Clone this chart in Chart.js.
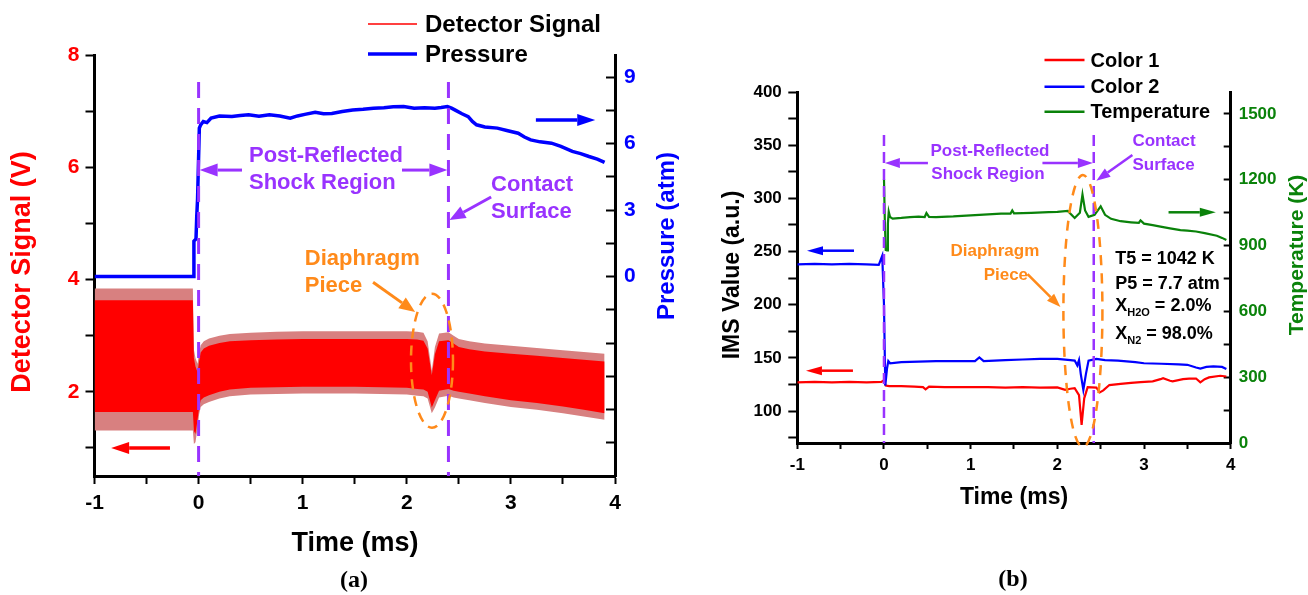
<!DOCTYPE html>
<html>
<head>
<meta charset="utf-8">
<script src="https://cdn.jsdelivr.net/npm/chart.js@4.4.1/dist/chart.umd.min.js"></script>
<style>
  html, body { margin: 0; padding: 0; background: #fff; }
  #wrap { position: relative; width: 1308px; height: 595px; overflow: hidden; }
  canvas { position: absolute; top: 0; }
</style>
</head>
<body>
<div id="wrap">
  <canvas id="chartA" width="680" height="595" style="left:0"></canvas>
  <canvas id="chartB" width="628" height="595" style="left:680px"></canvas>
</div>
<script>
// ---------- panel (a): detector signal band (V) and pressure (atm) ----------
const aEnvTime   = [-1, -0.5, -0.055, -0.045, -0.03, -0.01, 0.005, 0.02, 0.05, 0.1,
                    0.2, 0.3, 0.5, 0.75, 1.0, 1.25, 1.5, 1.75, 2.0, 2.1,
                    2.16, 2.2, 2.24, 2.27, 2.31, 2.4, 2.45, 2.5, 2.6, 2.75,
                    3.0, 3.25, 3.5, 3.7, 3.9];
const aOuterHigh = [3.84, 3.84, 3.84, 2.75, 2.6, 2.5, 2.7, 2.83, 2.9, 2.95,
                    3.0, 3.03, 3.05, 3.07, 3.08, 3.08, 3.08, 3.08, 3.08, 3.07,
                    3.05, 2.9, 2.38, 2.8, 3.04, 3.06, 3.0, 2.94, 2.9, 2.86,
                    2.82, 2.78, 2.74, 2.71, 2.68];
const aInnerHigh = [3.63, 3.63, 3.63, 2.6, 2.45, 2.35, 2.55, 2.7, 2.77, 2.82,
                    2.87, 2.9, 2.92, 2.93, 2.94, 2.94, 2.94, 2.94, 2.94, 2.93,
                    2.91, 2.77, 2.3, 2.67, 2.9, 2.92, 2.86, 2.8, 2.76, 2.72,
                    2.68, 2.64, 2.6, 2.57, 2.54];
const aInnerLow  = [1.64, 1.64, 1.64, 1.3, 1.25, 1.5, 1.72, 1.85, 1.9, 1.94,
                    2.0, 2.04, 2.07, 2.08, 2.09, 2.09, 2.09, 2.08, 2.07, 2.05,
                    2.04, 2.0, 1.72, 1.85, 2.02, 2.05, 2.02, 2.0, 1.97, 1.92,
                    1.85, 1.8, 1.74, 1.68, 1.62];
const aOuterLow  = [1.31, 1.31, 1.31, 1.07, 1.1, 1.35, 1.6, 1.73, 1.78, 1.82,
                    1.88, 1.92, 1.95, 1.96, 1.97, 1.97, 1.97, 1.96, 1.95, 1.93,
                    1.92, 1.88, 1.62, 1.72, 1.9, 1.93, 1.9, 1.88, 1.85, 1.8,
                    1.73, 1.68, 1.62, 1.56, 1.5];

const aPresTime = [-1, -0.8, -0.6, -0.4, -0.2, -0.05, -0.045, -0.025, -0.018, -0.01,
                   0.007, 0.02, 0.045, 0.08, 0.12, 0.2, 0.32, 0.4, 0.48, 0.58,
                   0.68, 0.78, 0.88, 0.95, 1.02, 1.12, 1.2, 1.28, 1.38, 1.48,
                   1.58, 1.68, 1.78, 1.87, 1.97, 2.07, 2.17, 2.27, 2.33, 2.39,
                   2.43, 2.47, 2.53, 2.59, 2.63, 2.67, 2.75, 2.87, 2.97, 3.07,
                   3.13, 3.19, 3.28, 3.39, 3.48, 3.59, 3.67, 3.75, 3.83, 3.9];
const aPressure = [0, 0, 0, 0, 0, 0, 1.6, 1.7, 2.7, 3.5,
                   6.7, 6.85, 7.0, 6.95, 7.15, 7.25, 7.22, 7.27, 7.3, 7.24,
                   7.3, 7.25, 7.15, 7.25, 7.32, 7.42, 7.35, 7.36, 7.45, 7.52,
                   7.55, 7.6, 7.62, 7.66, 7.68, 7.6, 7.62, 7.6, 7.63, 7.67,
                   7.6, 7.5, 7.35, 7.22, 7.0, 6.85, 6.75, 6.7, 6.58, 6.47,
                   6.3, 6.17, 6.08, 6.02, 5.88, 5.65, 5.55, 5.42, 5.3, 5.15];

const aTimeTicks   = [-1, -0.5, 0, 0.5, 1, 1.5, 2, 2.5, 3, 3.5, 4];
const aTimeLabels  = [-1, 0, 1, 2, 3, 4];
const aSignalTicks = [1, 2, 3, 4, 5, 6, 7, 8];
const aSignalLabels = [2, 4, 6, 8];
const aPresTicks   = [-7.5, -6, -4.5, -3, -1.5, 0, 1.5, 3, 4.5, 6, 7.5, 9];
const aPresLabels  = [0, 3, 6, 9];

// ---------- panel (b): IMS values (a.u.) and temperature (K) ----------
const bRedTime = [-1, -0.8, -0.6, -0.4, -0.2, -0.03, 0.0, 0.02, 0.06, 0.2, 0.35, 0.45, 0.48, 0.52,
                  0.7, 0.88, 1.0, 1.2, 1.4, 1.6, 1.8, 2.0, 2.09, 2.15, 2.2, 2.25, 2.28, 2.31, 2.35,
                  2.45, 2.49, 2.53, 2.6, 2.73, 2.85, 2.96, 3.1, 3.19, 3.22, 3.3, 3.33, 3.45, 3.52,
                  3.6, 3.65, 3.7, 3.75, 3.88, 3.95];
const bColor1  = [127, 127.5, 127, 127.5, 127, 127.5, 129, 124, 123.5, 123.5, 123, 122.5, 120.5, 123,
                  122.5, 122.5, 122.5, 122.5, 122, 122.5, 122, 122.3, 120, 121, 121.5, 115, 87, 112, 122.5,
                  122, 117.6, 119.5, 124.5, 125.5, 126.5, 127.3, 128, 130, 131, 128.5, 128, 130, 130.5,
                  130.6, 127, 130, 131.7, 133.2, 132.5];
const bBlueTime = [-1, -0.8, -0.6, -0.4, -0.2, -0.06, -0.02, 0.0, 0.015, 0.035, 0.05, 0.07,
                   0.2, 0.4, 0.6, 0.8, 1.05, 1.1, 1.15, 1.4, 1.6, 1.8, 2.0, 2.15, 2.2, 2.23,
                   2.25, 2.27, 2.3, 2.33, 2.36, 2.45, 2.55, 2.7, 2.9, 3.0, 3.2, 3.4, 3.5, 3.6,
                   3.65, 3.72, 3.8, 3.9, 3.95];
const bColor2   = [238, 238.5, 238, 238.5, 238, 237.5, 246, 200, 124, 140, 147, 145,
                   146, 146.5, 147, 147, 147, 150.5, 147, 148, 148.5, 149, 149, 148, 147.5, 143,
                   148, 135, 120, 135, 147.5, 149, 148, 147.5, 146, 145, 144.5, 144, 143.5, 141,
                   140, 141.5, 142, 141.5, 139.5];
const bTempTime = [0.0, 0.01, 0.02, 0.035, 0.045, 0.055, 0.07, 0.1, 0.2, 0.3, 0.4, 0.47, 0.49, 0.52,
                   0.6, 0.8, 1.0, 1.2, 1.35, 1.46, 1.48, 1.5, 1.7, 1.9, 2.0, 2.12, 2.2, 2.26, 2.29,
                   2.32, 2.36, 2.43, 2.5, 2.55, 2.62, 2.73, 2.85, 2.94, 2.96, 3.0, 3.1, 3.19, 3.3,
                   3.42, 3.5, 3.6, 3.7, 3.84, 3.9, 3.95];
const bTemp     = [1205, 1010, 880, 878, 1000, 1054, 1030, 1023, 1026, 1030, 1032, 1030, 1048, 1031,
                   1030, 1033, 1038, 1042, 1046, 1046, 1060, 1047, 1049, 1052, 1054, 1058, 1026, 1050, 1133,
                   1060, 1031, 1040, 1079, 1040, 1022, 1011, 1006, 1003, 1015, 1000, 993, 986, 978,
                   970, 968, 964, 957, 945, 935, 925];

const bTimeTicks  = aTimeTicks;
const bTimeLabels = aTimeLabels;
const bImsTicks   = [75, 100, 125, 150, 175, 200, 225, 250, 275, 300, 325, 350, 375, 400];
const bImsLabels  = [100, 150, 200, 250, 300, 350, 400];
const bTempTicks  = [0, 150, 300, 450, 600, 750, 900, 1050, 1200, 1350, 1500];
const bTempLabels = [0, 300, 600, 900, 1200, 1500];

// ---------- styling ----------
const FONT = "'Liberation Sans', Arial, sans-serif";
const SERIF = "'Liberation Serif', 'Times New Roman', serif";
const RED = '#ff0000', BLUE = '#0000ff', GREEN = '#0a820a';
const PURPLE = '#9933ff', ORANGE = '#ff8a1a', FRINGE = '#d88080';

const pts = (xs, ys) => xs.map((x, i) => ({ x: x, y: ys[i] }));

function axis(tickList, labelList, color, size, tickLen, pad, dim, fixed) {
  return {
    type: 'linear',
    afterBuildTicks: ax => { ax.ticks = tickList.map(v => ({ value: v })); },
    afterFit: ax => { ax[dim] = fixed; },
    ticks: {
      autoSkip: false, maxRotation: 0, minRotation: 0, padding: pad, color: color,
      font: { family: FONT, size: size, weight: 'bold' },
      callback: v => labelList.includes(v) ? String(v) : ''
    },
    grid: { drawOnChartArea: false, drawTicks: true, tickLength: tickLen, tickWidth: 2, tickColor: '#000' },
    border: { display: true, color: '#000', width: 3 }
  };
}

function text(ctx, str, px, py, size, color, align, rot, family) {
  ctx.save();
  ctx.translate(px, py);
  if (rot) ctx.rotate(rot);
  ctx.font = 'bold ' + size + 'px ' + (family || FONT);
  ctx.fillStyle = color;
  ctx.textAlign = align || 'left';
  ctx.textBaseline = 'middle';
  ctx.fillText(str, 0, 0);
  ctx.restore();
}

function subText(ctx, px, py, main, sub, rest, size, color) {
  ctx.save();
  ctx.fillStyle = color; ctx.textAlign = 'left'; ctx.textBaseline = 'middle';
  ctx.font = 'bold ' + size + 'px ' + FONT;
  ctx.fillText(main, px, py);
  let w = ctx.measureText(main).width;
  ctx.font = 'bold ' + Math.round(size * 0.6) + 'px ' + FONT;
  ctx.fillText(sub, px + w, py + size * 0.38);
  w += ctx.measureText(sub).width;
  ctx.font = 'bold ' + size + 'px ' + FONT;
  ctx.fillText(rest, px + w, py);
  ctx.restore();
}

function arrow(ctx, x1, y1, x2, y2, color, lw, hl, hw) {
  const a = Math.atan2(y2 - y1, x2 - x1);
  const bx = x2 - hl * Math.cos(a), by = y2 - hl * Math.sin(a);
  ctx.save();
  ctx.setLineDash([]);
  ctx.strokeStyle = color; ctx.fillStyle = color; ctx.lineWidth = lw;
  ctx.beginPath(); ctx.moveTo(x1, y1); ctx.lineTo(bx, by); ctx.stroke();
  ctx.beginPath();
  ctx.moveTo(x2, y2);
  ctx.lineTo(bx + hw / 2 * Math.sin(a), by - hw / 2 * Math.cos(a));
  ctx.lineTo(bx - hw / 2 * Math.sin(a), by + hw / 2 * Math.cos(a));
  ctx.closePath(); ctx.fill();
  ctx.restore();
}

function dashLine(ctx, x1, y1, x2, y2, color, lw, dash) {
  ctx.save();
  ctx.strokeStyle = color; ctx.lineWidth = lw; ctx.setLineDash(dash);
  ctx.beginPath(); ctx.moveTo(x1, y1); ctx.lineTo(x2, y2); ctx.stroke();
  ctx.restore();
}

function dashEllipse(ctx, cx, cy, rx, ry, color, lw, dash) {
  ctx.save();
  ctx.strokeStyle = color; ctx.lineWidth = lw; ctx.setLineDash(dash);
  ctx.beginPath(); ctx.ellipse(cx, cy, rx, ry, 0, 0, Math.PI * 2); ctx.stroke();
  ctx.restore();
}

function legendLine(ctx, x1, x2, y, color, lw) {
  ctx.save();
  ctx.strokeStyle = color; ctx.lineWidth = lw;
  ctx.beginPath(); ctx.moveTo(x1, y); ctx.lineTo(x2, y); ctx.stroke();
  ctx.restore();
}

// ---------- annotations for (a) ----------
const annotA = {
  id: 'annotA',
  afterDraw(chart) {
    const ctx = chart.ctx, sx = chart.scales.x, sy = chart.scales.y;
    const X = v => sx.getPixelForValue(v), Y = v => sy.getPixelForValue(v);

    dashLine(ctx, X(0), Y(7.52), X(0), Y(0.5), PURPLE, 3, [16, 10]);
    dashLine(ctx, X(2.4), Y(7.52), X(2.4), Y(0.5), PURPLE, 3, [16, 10]);

    text(ctx, 'Post-Reflected', X(0.484), Y(6.2), 22, PURPLE, 'left');
    text(ctx, 'Shock Region', X(0.484), Y(5.72), 22, PURPLE, 'left');
    arrow(ctx, X(0.417), Y(5.95), X(0.01), Y(5.95), PURPLE, 3, 18, 13);
    arrow(ctx, X(1.954), Y(5.95), X(2.39), Y(5.95), PURPLE, 3, 18, 13);

    text(ctx, 'Contact', X(2.81), Y(5.68), 22, PURPLE, 'left');
    text(ctx, 'Surface', X(2.81), Y(5.2), 22, PURPLE, 'left');
    arrow(ctx, X(2.81), Y(5.47), X(2.41), Y(5.06), PURPLE, 3, 16, 13);

    arrow(ctx, X(3.24), Y(6.84), X(3.81), Y(6.84), BLUE, 3.5, 18, 12);
    arrow(ctx, X(-0.275), Y(1.0), X(-0.84), Y(1.0), RED, 3.5, 18, 12);

    text(ctx, 'Diaphragm', X(1.02), Y(4.36), 22, ORANGE, 'left');
    text(ctx, 'Piece', X(1.02), Y(3.88), 22, ORANGE, 'left');
    arrow(ctx, X(1.676), Y(3.95), X(2.08), Y(3.42), ORANGE, 3, 16, 13);
    dashEllipse(ctx, X(2.242), Y(2.554), X(2.242 + 0.2017) - X(2.242), Y(2.554) - Y(2.554 + 1.194),
                ORANGE, 2.5, [10, 7]);

    // legend
    legendLine(ctx, 368, 417, 24, RED, 1.5);
    legendLine(ctx, 368, 417, 54, BLUE, 3.5);
    text(ctx, 'Detector Signal', 425, 25, 24, '#000', 'left');
    text(ctx, 'Pressure', 425, 55, 24, '#000', 'left');

    // axis titles
    text(ctx, 'Detector Signal (V)', 23, 272, 27, RED, 'center', -Math.PI / 2);
    text(ctx, 'Pressure (atm)', 667, 236, 24, BLUE, 'center', -Math.PI / 2);
    text(ctx, 'Time (ms)', 355, 544, 27, '#000', 'center');
    text(ctx, '(a)', 354, 581, 24, '#000', 'center', 0, SERIF);
  }
};

// ---------- annotations for (b) ----------
const annotB = {
  id: 'annotB',
  afterDraw(chart) {
    const ctx = chart.ctx, sx = chart.scales.x, sy = chart.scales.y;
    const X = v => sx.getPixelForValue(v), Y = v => sy.getPixelForValue(v);

    dashLine(ctx, X(0), Y(359.6), X(0), Y(70), PURPLE, 2.5, [11, 6]);
    dashLine(ctx, X(2.42), Y(359.6), X(2.42), Y(70), PURPLE, 2.5, [11, 6]);

    text(ctx, 'Post-Reflected', X(1.223), Y(343.9), 17, PURPLE, 'center');
    text(ctx, 'Shock Region', X(1.2), Y(322.9), 17, PURPLE, 'center');
    arrow(ctx, X(0.507), Y(333.2), X(0.01), Y(333.2), PURPLE, 2.5, 15, 10);
    arrow(ctx, X(1.828), Y(333.2), X(2.41), Y(333.2), PURPLE, 2.5, 15, 10);

    text(ctx, 'Contact', X(2.866), Y(353.3), 17, PURPLE, 'left');
    text(ctx, 'Surface', X(2.866), Y(331.4), 17, PURPLE, 'left');
    arrow(ctx, X(2.866), Y(340.8), X(2.45), Y(316.6), PURPLE, 2.5, 14, 10);

    arrow(ctx, X(3.283), Y(286.9), X(3.828), Y(286.9), GREEN, 2.5, 16, 9);
    arrow(ctx, X(-0.346), Y(250.8), X(-0.888), Y(250.8), BLUE, 2.5, 16, 9);
    arrow(ctx, X(-0.358), Y(138), X(-0.9), Y(138), RED, 2.5, 16, 9);

    text(ctx, 'Diaphragm', X(1.28), Y(249.8), 17, ORANGE, 'center');
    text(ctx, 'Piece', X(1.406), Y(227.9), 17, ORANGE, 'center');
    arrow(ctx, X(1.656), Y(228.8), X(2.036), Y(197.8), ORANGE, 2.5, 14, 10);
    dashEllipse(ctx, X(2.295), Y(194.1), X(2.295 + 0.225) - X(2.295), Y(194.1) - Y(194.1 + 127.9),
                ORANGE, 2.5, [10, 8]);

    text(ctx, 'T5 = 1042 K', X(2.668), Y(243), 18, '#000', 'left');
    text(ctx, 'P5 = 7.7 atm', X(2.668), Y(219.4), 18, '#000', 'left');
    subText(ctx, X(2.668), Y(199), 'X', 'H2O', ' = 2.0%', 18, '#000');
    subText(ctx, X(2.668), Y(172.4), 'X', 'N2', ' = 98.0%', 18, '#000');

    // legend
    legendLine(ctx, 364.5, 404.5, 60, RED, 2.5);
    legendLine(ctx, 364.5, 404.5, 86.7, BLUE, 2.5);
    legendLine(ctx, 364.5, 404.5, 111.7, GREEN, 2.5);
    text(ctx, 'Color 1', 410.5, 61, 20, '#000', 'left');
    text(ctx, 'Color 2', 410.5, 87.7, 20, '#000', 'left');
    text(ctx, 'Temperature', 410.5, 112.7, 20, '#000', 'left');

    // axis titles
    text(ctx, 'IMS Value (a.u.)', 52.5, 275, 23, '#000', 'center', -Math.PI / 2);
    text(ctx, 'Temperature (K)', 617, 255, 21, GREEN, 'center', -Math.PI / 2);
    text(ctx, 'Time (ms)', 334, 498, 23, '#000', 'center');
    text(ctx, '(b)', 333, 580, 24, '#000', 'center', 0, SERIF);
  }
};

const common = {
  responsive: false,
  animation: false,
  devicePixelRatio: 1,
  plugins: { legend: { display: false }, tooltip: { enabled: false } },
  elements: { point: { radius: 0 }, line: { tension: 0 } }
};

// ---------- chart (a) ----------
new Chart(document.getElementById('chartA'), {
  type: 'line',
  data: {
    datasets: [
      { label: 'Pressure', data: pts(aPresTime, aPressure), yAxisID: 'y2',
        borderColor: BLUE, borderWidth: 3.5, fill: false, order: 0 },
      { label: 'Detector Signal', data: pts(aEnvTime, aInnerHigh), yAxisID: 'y',
        borderColor: 'rgba(0,0,0,0)', borderWidth: 0, backgroundColor: RED, fill: '+1', order: 1 },
      { label: 'inner low', data: pts(aEnvTime, aInnerLow), yAxisID: 'y',
        borderColor: 'rgba(0,0,0,0)', borderWidth: 0, fill: false, order: 1 },
      { label: 'outer high', data: pts(aEnvTime, aOuterHigh), yAxisID: 'y',
        borderColor: 'rgba(0,0,0,0)', borderWidth: 0, backgroundColor: FRINGE, fill: '+1', order: 2 },
      { label: 'outer low', data: pts(aEnvTime, aOuterLow), yAxisID: 'y',
        borderColor: 'rgba(0,0,0,0)', borderWidth: 0, fill: false, order: 2 }
    ]
  },
  options: Object.assign({}, common, {
    layout: { padding: { top: 55, left: 0, right: 0, bottom: 0 } },
    scales: {
      x: Object.assign(axis(aTimeTicks, aTimeLabels, '#000', 21, 8, 7, 'height', 119),
                       { position: 'bottom', min: -1, max: 4 }),
      y: Object.assign(axis(aSignalTicks, aSignalLabels, RED, 21, 9, 6, 'width', 94.5),
                       { position: 'left', min: 0.5, max: 8 }),
      y2: Object.assign(axis(aPresTicks, aPresLabels, BLUE, 21, -9, 18, 'width', 65),
                        { position: 'right', min: -9, max: 10 })
    }
  }),
  plugins: [annotA]
});

// ---------- chart (b) ----------
new Chart(document.getElementById('chartB'), {
  type: 'line',
  data: {
    datasets: [
      { label: 'Color 1', data: pts(bRedTime, bColor1), yAxisID: 'y',
        borderColor: RED, borderWidth: 2.2, fill: false, order: 1 },
      { label: 'Color 2', data: pts(bBlueTime, bColor2), yAxisID: 'y',
        borderColor: BLUE, borderWidth: 2.2, fill: false, order: 0 },
      { label: 'Temperature', data: pts(bTempTime, bTemp), yAxisID: 'y2',
        borderColor: GREEN, borderWidth: 2.2, fill: false, order: 2 }
    ]
  },
  options: Object.assign({}, common, {
    layout: { padding: { top: 92, left: 0, right: 0, bottom: 0 } },
    scales: {
      x: Object.assign(axis(bTimeTicks, bTimeLabels, '#000', 17, 6, 6, 'height', 152),
                       { position: 'bottom', min: -1, max: 4 }),
      y: Object.assign(axis(bImsTicks, bImsLabels, '#000', 17, 9, 6.5, 'width', 117.3),
                       { position: 'left', min: 70, max: 400 }),
      y2: Object.assign(axis(bTempTicks, bTempLabels, GREEN, 17, -7, 15, 'width', 77.3),
                        { position: 'right', min: 0, max: 1600 })
    }
  }),
  plugins: [annotB]
});
</script>
</body>
</html>
